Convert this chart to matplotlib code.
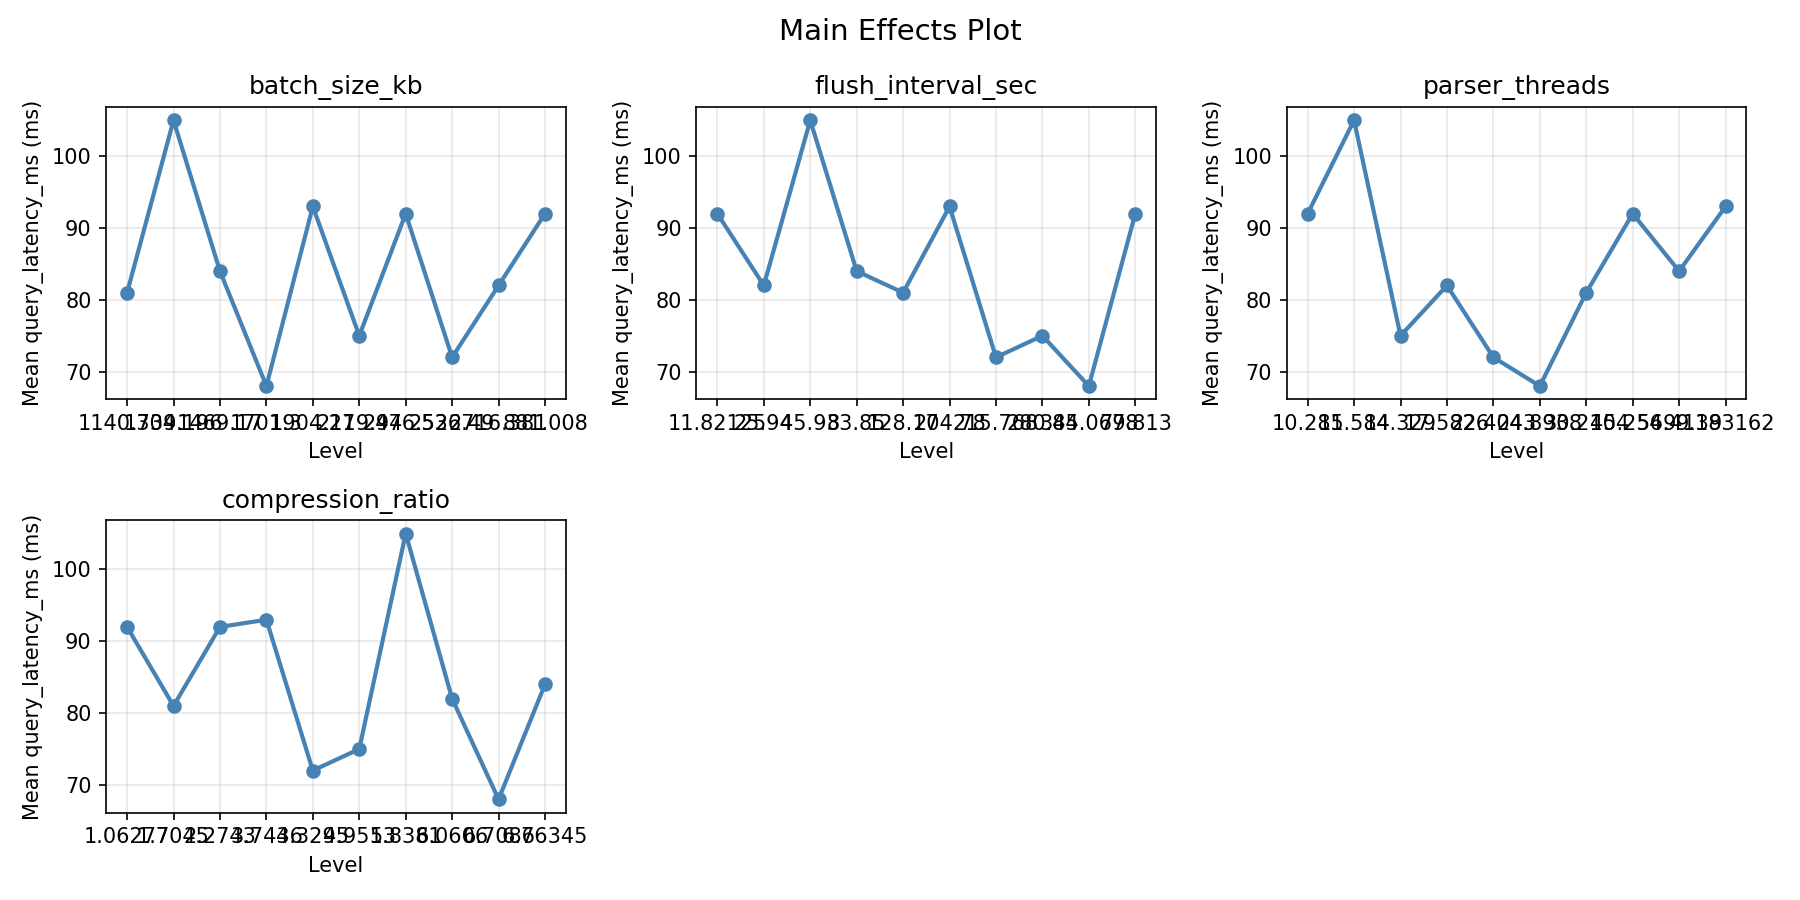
import matplotlib
matplotlib.use("Agg")
import matplotlib.pyplot as plt

# factor names and their levels (as strings, categorical x-axis)
factors = ["batch_size_kb", "flush_interval_sec", "parser_threads", "compression_ratio"]

batch_levels = ["1140.739", "1304.196", "1469.17", "1701.3", "1904.27",
                "2119.94", "2476.52", "2536.49", "2716.381", "881.008"]
batch_means = [81, 105, 84, 68, 93, 75, 92, 72, 82, 92]

flush_levels = ["11.82125", "25.94", "45.93", "83.85", "128.17",
                "204.78", "215.768", "280.84", "345.0678", "79.813"]
flush_means = [92, 82, 105, 84, 81, 93, 72, 75, 68, 92]

parser_levels = ["10.285", "11.584", "14.329", "17.5826", "22.4043",
                 "24.8938", "30.2104", "45.2569", "54.4139", "9.183162"]
parser_means = [92, 105, 75, 82, 72, 68, 81, 92, 84, 93]

comp_levels = ["1.06277", "1.7045", "2.2743", "3.7436", "4.3295",
               "4.9513", "5.8381", "6.0606", "6.7086", "6.76345"]
comp_means = [92, 81, 92, 93, 72, 75, 105, 82, 68, 84]

levels = [batch_levels, flush_levels, parser_levels, comp_levels]
means = [batch_means, flush_means, parser_means, comp_means]

fig, axes = plt.subplots(2, 3, figsize=(12, 6))
axes = axes.flatten()

for i, name in enumerate(factors):
    ax = axes[i]
    ax.plot(levels[i], means[i], marker="o", color="steelblue", linewidth=2)
    ax.set_title(name, fontsize=12)
    ax.set_xlabel("Level")
    ax.set_ylabel("Mean query_latency_ms (ms)")
    ax.grid(True, alpha=0.3)

for j in range(len(factors), len(axes)):
    axes[j].set_visible(False)

fig.suptitle("Main Effects Plot", fontsize=14)
fig.tight_layout()
fig.savefig("out.png", dpi=150)
